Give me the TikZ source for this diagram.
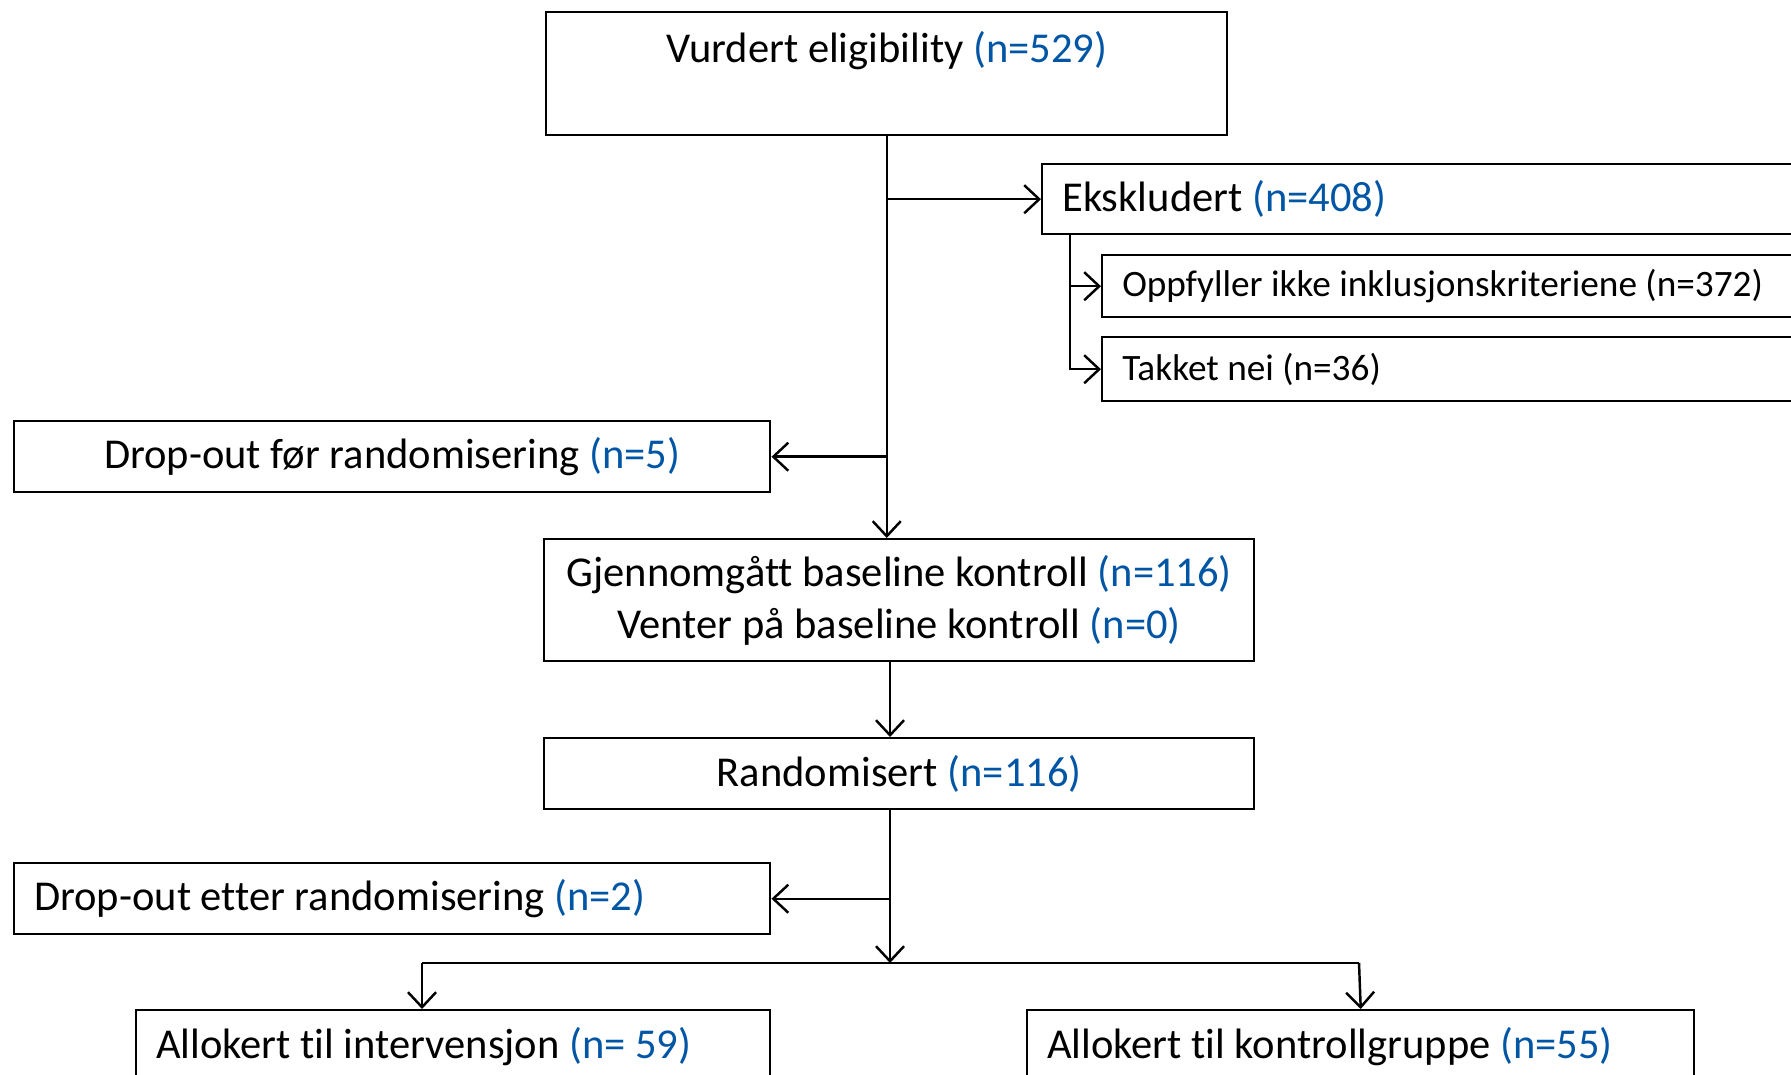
\documentclass[tikz,border=0pt]{standalone}
\usepackage{fontspec}
\setmainfont[Ligatures={NoCommon}]{Carlito}
\usetikzlibrary{arrows.meta}
\definecolor{nblue}{RGB}{0,86,164}
\newcommand{\nval}[1]{\textcolor{nblue}{#1}}

\begin{document}
\begin{tikzpicture}[->,>={Straight Barb[length=1.5mm,width=2.8mm]},line width=0.7pt,
  box/.style={draw,rectangle,inner sep=0pt,anchor=north west,font=\fontsize{12.1}{14.9}\selectfont},
  lbox/.style={box,inner xsep=0.2cm,text width=#1,align=flush left},
  sbox/.style={lbox=#1,font=\fontsize{10.6}{12}\selectfont}]
  \useasboundingbox (0,0) rectangle (17.91,-10.75);

  \node[box,minimum width=6.81cm,text height=0.50cm,text depth=0.73cm] (vurdert) at (5.45,-0.11) {Vurdert eligibility \nval{(n=529)}};
  \node[lbox=8.2cm,minimum height=0.70cm] (eksk) at (10.41,-1.63) {Ekskludert \nval{(n=408)}};
  \node[sbox=7.6cm,minimum height=0.62cm] (oppf) at (11.01,-2.54) {Oppfyller ikke inklusjonskriteriene (n=372)};
  \node[sbox=7.6cm,minimum height=0.64cm] (takket) at (11.01,-3.36) {Takket nei (n=36)};
  \node[box,minimum width=7.56cm,minimum height=0.71cm] (drop1) at (0.13,-4.20) {Drop-out før randomisering \nval{(n=5)}};
  \node[box,align=center,minimum width=7.10cm,minimum height=1.22cm] (base) at (5.43,-5.38) {Gjennomgått baseline kontroll \nval{(n=116)}\\Venter på baseline kontroll \nval{(n=0)}};
  \node[box,minimum width=7.10cm,minimum height=0.71cm] (rand) at (5.43,-7.37) {Randomisert \nval{(n=116)}};
  \node[lbox=7.16cm,minimum height=0.71cm] (drop2) at (0.13,-8.62) {Drop-out etter randomisering \nval{(n=2)}};
  \node[lbox=5.94cm,minimum height=0.72cm] (alloc1) at (1.35,-10.09) {Allokert til intervensjon \nval{(n= 59)}};
  \node[lbox=6.27cm,minimum height=0.72cm] (alloc2) at (10.26,-10.09) {Allokert til kontrollgruppe \nval{(n=55)}};

  \coordinate (sub) at (10.70,-2.33);
  \coordinate (split) at (8.90,-9.63);
  \coordinate (lft) at (4.22,-9.63);
  \coordinate (rgt) at (13.59,-9.63);

  % upper part
  \draw (vurdert.south) -- (vurdert.south |- base.north);
  \draw (vurdert.south |- eksk.west) -- (eksk.west);
  \draw (sub) |- (takket.west);
  \draw (sub |- oppf.west) -- (oppf.west);
  \draw (vurdert.south |- drop1.east) -- (drop1.east);

  % lower part
  \draw (base.south -| split) -- (rand.north -| split);
  \draw (rand.south -| split) -- (split);
  \draw (split |- drop2.east) -- (drop2.east);
  \draw[-] (lft) -- (rgt);
  \draw (lft) -- (lft |- alloc1.north);
  \draw (rgt) -- (alloc2.north);
\end{tikzpicture}
\end{document}
